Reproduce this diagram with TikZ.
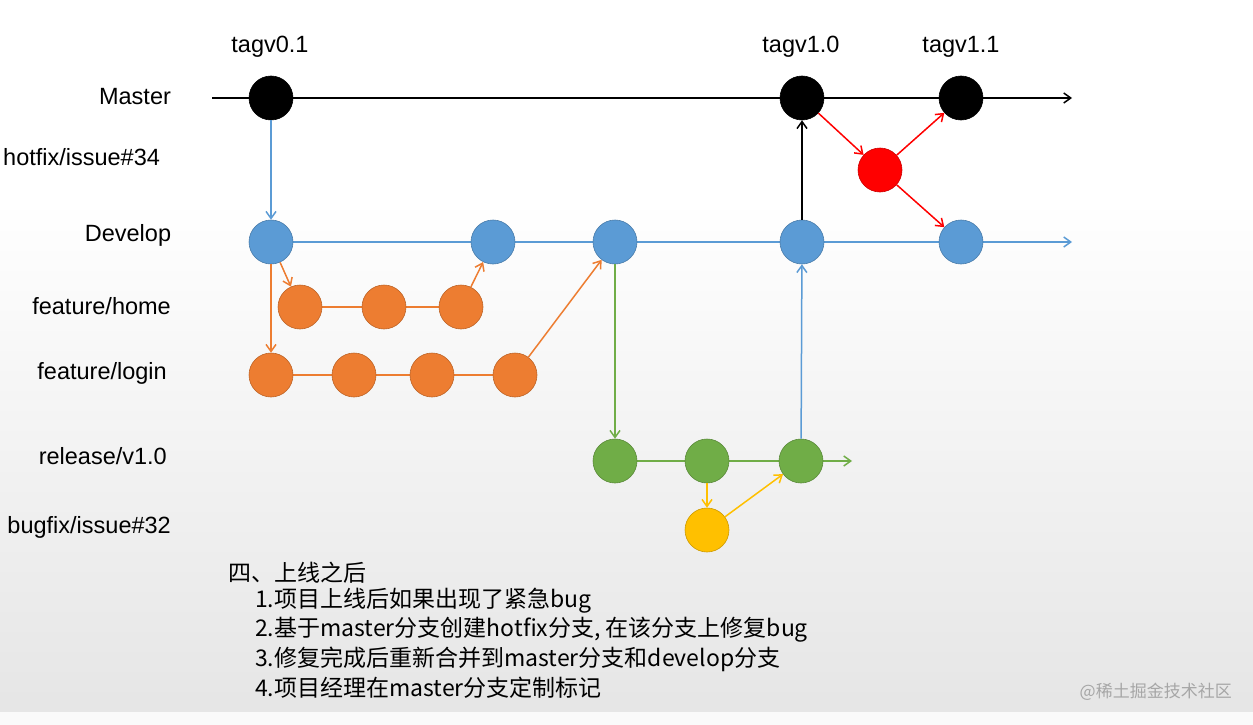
\documentclass[tikz,border=0pt]{standalone}
\usepackage{fontspec}
\setmainfont{Liberation Sans}
\newfontfamily\cjk{Noto Sans CJK SC}
\usetikzlibrary{arrows.meta}
\definecolor{cblue}{HTML}{5B9BD5}
\definecolor{corange}{HTML}{ED7D31}
\definecolor{cgreen}{HTML}{70AD47}
\definecolor{cyellow}{HTML}{FFC000}
\begin{document}
\begin{tikzpicture}[x=1pt,y=-1pt,
  cm/.style={circle,minimum size=44pt,inner sep=0pt,draw=#1!80!black,fill=#1,line width=0.6pt},
  lab/.style={font=\fontsize{23.5}{26}\selectfont,inner sep=0pt},
  arr/.style={-{Straight Barb[length=7pt,width=10pt]},line width=1.5pt},
  ln/.style={line width=1.5pt},
  cn/.style={font=\cjk\fontsize{23}{26}\selectfont,anchor=west,inner sep=0pt}]
\useasboundingbox (0,0) rectangle (1253,725);
\fill[white] (0,0) rectangle (1253,725);
\shade[top color=white,bottom color=black!10] (0,200) rectangle (1253,712);
\fill[black!2] (0,712) rectangle (1253,725);
% labels
\node[lab] (lm) at (135,97) {Master};
\node[lab,anchor=west] (lh) at (3,157) {hotfix/issue\#34};
\node[lab] (ld) at (128,235) {Develop};
\node[lab,anchor=east] (lf1) at (171,306) {feature/home};
\node[lab,anchor=east] (lf2) at (167,373) {feature/login};
\node[lab,anchor=east] (lr) at (167,456) {release/v1.0};
\node[lab,anchor=east] (lb) at (171,527) {bugfix/issue\#32};
\node[lab] (t1) at (270,47) {tagv0.1};
\node[lab] (t2) at (801,47) {tagv1.0};
\node[lab] (t3) at (961,47) {tagv1.1};
% coordinates
\coordinate (ms) at (212,98); \coordinate (me) at (1072,98);
\coordinate (ds) at (271,242); \coordinate (de) at (1072,242);
\coordinate (re) at (852,461);
% lines
\draw[arr,black] (ms) -- (me);
\draw[arr,cblue] (ds) -- (de);
\draw[ln,corange] (300,307) -- (461,307);
\draw[ln,corange] (271,375) -- (515,375);
\draw[arr,cgreen] (615,461) -- (re);
% nodes
\node[cm=black] (m0) at (271,98) {};
\node[cm=black] (m1) at (802,98) {};
\node[cm=black] (m2) at (961,98) {};
\node[cm=red] (h0) at (880,170) {};
\node[cm=cblue] (d0) at (271,242) {};
\node[cm=cblue] (d1) at (493,242) {};
\node[cm=cblue] (d2) at (615,242) {};
\node[cm=cblue] (d3) at (802,242) {};
\node[cm=cblue] (d4) at (961,242) {};
\node[cm=corange] (f0) at (300,307) {};
\node[cm=corange] (f1) at (384,307) {};
\node[cm=corange] (f2) at (461,307) {};
\node[cm=corange] (g0) at (271,375) {};
\node[cm=corange] (g1) at (354,375) {};
\node[cm=corange] (g2) at (432,375) {};
\node[cm=corange] (g3) at (515,375) {};
\node[cm=cgreen] (r0) at (615,461) {};
\node[cm=cgreen] (r1) at (707,461) {};
\node[cm=cgreen] (r2) at (801,461) {};
\node[cm=cyellow] (b0) at (707,530) {};
% connectors
\draw[arr,cblue] (m0) -- (d0);
\draw[arr,corange] (d0) -- (f0);
\draw[arr,corange] (d0) -- (g0);
\draw[arr,corange] (f2) -- (d1);
\draw[arr,corange] (g3) -- (d2);
\draw[arr,cgreen] (d2) -- (r0);
\draw[arr,cyellow] (r1) -- (b0);
\draw[arr,cyellow] (b0) -- (r2);
\draw[arr,cblue] (r2) -- (d3);
\draw[arr,black] (d3) -- (m1);
\draw[arr,red] (m1) -- (h0);
\draw[arr,red] (h0) -- (m2);
\draw[arr,red] (h0) -- (d4);
% text
\node[cn] (x0) at (228,573) {四、上线之后};
\node[cn] (x1) at (255,601) {1.项目上线后如果出现了紧急bug};
\node[cn] (x2) at (255,630) {2.基于master分支创建hotfix分支, 在该分支上修复bug};
\node[cn] (x3) at (255,659) {3.修复完成后重新合并到master分支和develop分支};
\node[cn] (x4) at (255,688) {4.项目经理在master分支定制标记};
\node[font=\cjk\fontsize{17}{19}\selectfont,text=black!35,anchor=east,inner sep=0pt] (wm) at (1232,692) {@稀土掘金技术社区};
\end{tikzpicture}
\end{document}
